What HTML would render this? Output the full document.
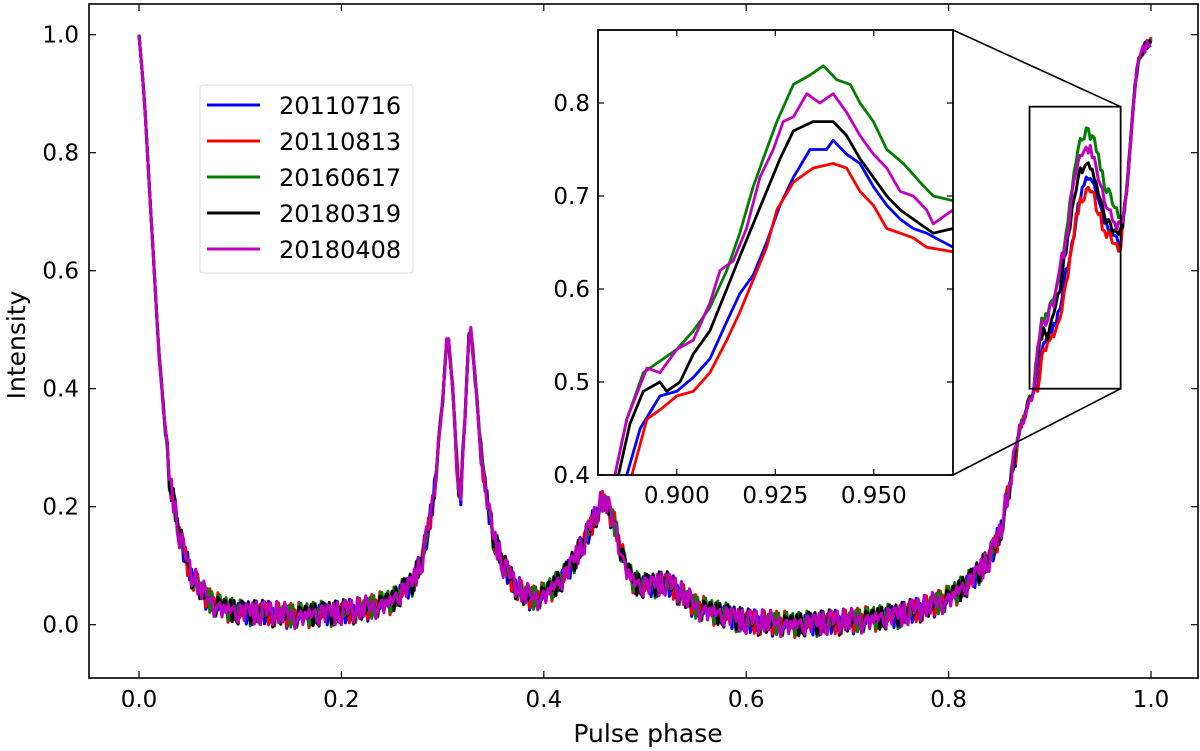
<!DOCTYPE html>
<html><head><meta charset="utf-8"><style>
html,body{margin:0;padding:0;background:#fff;}
svg{display:block;font-family:"DejaVu Sans","Liberation Sans",sans-serif;}
</style></head><body>
<svg id="chart" width="1200" height="751" viewBox="0 0 1200 751" xmlns="http://www.w3.org/2000/svg">
<defs>
<clipPath id="mainClip"><rect x="89" y="4" width="1109" height="674"/></clipPath>
<clipPath id="insetClip"><rect x="598" y="30" width="355" height="445"/></clipPath>
</defs>
<g id="mainG"></g>
<g id="insetG"></g>
</svg>
<script>
// ---- data ----
const seriesNames = ["20110716","20110813","20160617","20180319","20180408"];
const seriesColors = ["#0000ff","#ff0000","#008000","#000000","#bf00bf"];
const mainTicksX = [0.0,0.2,0.4,0.6,0.8,1.0];
const mainTicksY = [0.0,0.2,0.4,0.6,0.8,1.0];
const insetTicksX = [0.900,0.925,0.950];
const insetTicksY = [0.4,0.5,0.6,0.7,0.8];
// shared main profile (phase, intensity)
const basePhase = [0.0,0.005,0.01,0.02,0.03,0.04,0.05,0.06,0.07,0.08,0.1,0.12,0.15,0.2,0.22,0.25,0.27,0.28,0.29,0.30,0.305,0.31,0.315,0.318,0.322,0.327,0.333,0.34,0.35,0.36,0.37,0.38,0.39,0.40,0.42,0.44,0.455,0.46,0.47,0.48,0.49,0.50,0.52,0.53,0.55,0.58,0.60,0.65,0.70,0.75,0.78,0.80,0.82,0.84,0.85,0.86,0.87,0.88,0.97,0.975,0.98,0.985,0.99,0.995,1.0];
const baseValue = [1.0,0.9,0.75,0.45,0.25,0.15,0.09,0.06,0.04,0.03,0.02,0.02,0.015,0.02,0.025,0.04,0.07,0.11,0.2,0.38,0.5,0.4,0.25,0.21,0.35,0.52,0.4,0.25,0.15,0.1,0.07,0.05,0.045,0.05,0.08,0.14,0.2,0.21,0.17,0.1,0.07,0.065,0.07,0.06,0.03,0.015,0.005,0.0,0.005,0.015,0.03,0.045,0.07,0.11,0.15,0.23,0.33,0.38,0.655,0.72,0.82,0.93,0.97,0.98,0.99];
// hand-read jitter (intensity units)
const jitter = [0.01,-0.012,0.018,-0.005,0.022,-0.015,0.004,0.012,-0.02,0.008,-0.006,0.016,-0.011,0.003,0.02,-0.017,0.009,-0.003,0.014,-0.022,0.006,0.011,-0.009,0.019,-0.013,0.002,-0.018,0.015,0.007,-0.008,0.013,-0.016,0.021,-0.004,0.005,-0.014,0.017,-0.007,0.01,-0.019];
// inset region, per series
const bluePhase = [0.8873,0.8907,0.8957,0.9000,0.9042,0.9084,0.9127,0.9160,0.9194,0.9228,0.9262,0.9296,0.9338,0.9380,0.9397,0.9431,0.9465,0.9499,0.9533,0.9567,0.9600,0.9634,0.9701];
const blueValue = [0.40,0.45,0.485,0.49,0.505,0.525,0.565,0.595,0.615,0.65,0.69,0.72,0.75,0.75,0.76,0.745,0.735,0.71,0.69,0.675,0.665,0.66,0.645];
const redPhase = [0.8886,0.8924,0.8957,0.9000,0.9042,0.9084,0.9127,0.9160,0.9194,0.9228,0.9254,0.9296,0.9346,0.9397,0.9431,0.9465,0.9499,0.9533,0.9567,0.9600,0.9634,0.9701];
const redValue = [0.40,0.46,0.47,0.485,0.49,0.51,0.545,0.575,0.61,0.645,0.685,0.715,0.73,0.735,0.73,0.705,0.69,0.665,0.66,0.655,0.645,0.64];
const greenPhase = [0.8843,0.8873,0.8915,0.8949,0.9000,0.9042,0.9084,0.9127,0.9160,0.9194,0.9228,0.9254,0.9296,0.9338,0.9372,0.9406,0.9440,0.9465,0.9499,0.9533,0.9575,0.9617,0.9651,0.9701];
const greenValue = [0.40,0.46,0.51,0.52,0.535,0.555,0.58,0.62,0.66,0.71,0.75,0.78,0.82,0.83,0.84,0.825,0.82,0.80,0.78,0.75,0.735,0.715,0.70,0.695];
const blackPhase = [0.8852,0.8881,0.8915,0.8957,0.8974,0.9008,0.9042,0.9084,0.9127,0.9160,0.9194,0.9228,0.9262,0.9296,0.9346,0.9397,0.9431,0.9465,0.9499,0.9533,0.9567,0.9617,0.9651,0.9701];
const blackValue = [0.40,0.455,0.49,0.50,0.49,0.50,0.53,0.555,0.60,0.635,0.67,0.705,0.74,0.77,0.78,0.78,0.765,0.74,0.72,0.70,0.685,0.67,0.66,0.665];
const magentaPhase = [0.8843,0.8873,0.8924,0.8957,0.9000,0.9042,0.9084,0.9110,0.9143,0.9177,0.9211,0.9245,0.9270,0.9296,0.9330,0.9363,0.9397,0.9431,0.9465,0.9499,0.9533,0.9567,0.9600,0.9634,0.9651,0.9701];
const magentaValue = [0.40,0.46,0.515,0.51,0.535,0.545,0.585,0.62,0.63,0.665,0.72,0.75,0.78,0.785,0.81,0.80,0.81,0.79,0.765,0.745,0.73,0.705,0.70,0.685,0.67,0.685];

const insetPhases = [bluePhase,redPhase,greenPhase,blackPhase,magentaPhase];
const insetValues = [blueValue,redValue,greenValue,blackValue,magentaValue];

// ---- axes ----
const NS="http://www.w3.org/2000/svg";
const mx = v => 139 + v*1012;
const my = v => 624.7 - v*590;
const ix = v => 598 + (v-0.88)*3940;
const iy = v => 475 - (v-0.4)*930;
function mk(tag, attrs, parent){const e=document.createElementNS(NS,tag);for(const k in attrs)e.setAttribute(k,attrs[k]);parent.appendChild(e);return e;}
function interp(xs,ys,x){
  if(x<=xs[0])return ys[0];
  for(let i=1;i<xs.length;i++){if(x<=xs[i]){const t=(x-xs[i-1])/(xs[i]-xs[i-1]);return ys[i-1]+t*(ys[i]-ys[i-1]);}}
  return ys[ys.length-1];
}
const mainG=document.getElementById('mainG');
const insetG=document.getElementById('insetG');

// main series
const linesG=mk('g',{'clip-path':'url(#mainClip)'},mainG);


for(let s=0;s<5;s++){
  let pts=[];
  const ph=insetPhases[s], va=insetValues[s];
  for(let i=0;i<=500;i++){
    const p=i/500;
    let v;
    if(p>=ph[0] && p<=ph[ph.length-1]) v=interp(ph,va,p);
    else v=interp(basePhase,baseValue,p);
    const j=jitter[(i*3+s*7)%jitter.length];
    const amp = p<0.02?0:(v<0.3?1:0.4);
    v += j*amp;
    pts.push(mx(p).toFixed(1)+','+my(v).toFixed(1));
  }
  const pl=mk('polyline',{points:pts.join(' '),fill:'none',stroke:seriesColors[s],'stroke-width':3,'stroke-linejoin':'round'},linesG);
  
  
}
// main frame
const frame=mk('rect',{x:89,y:4,width:1109,height:674,fill:'none',stroke:'#000','stroke-width':1.6},mainG);


mainTicksX.forEach(t=>{
  const x=mx(t);
  mk('line',{x1:x,x2:x,y1:678,y2:671,stroke:'#000','stroke-width':1.2},mainG);
  mk('line',{x1:x,x2:x,y1:4,y2:11,stroke:'#000','stroke-width':1.2},mainG);
  const tx=mk('text',{x:x,y:707,'font-size':23,'text-anchor':'middle'},mainG);
  tx.textContent=t.toFixed(1);
  
  
});
mainTicksY.forEach(t=>{
  const y=my(t);
  mk('line',{x1:89,x2:96,y1:y,y2:y,stroke:'#000','stroke-width':1.2},mainG);
  mk('line',{x1:1198,x2:1191,y1:y,y2:y,stroke:'#000','stroke-width':1.2},mainG);
  const tx=mk('text',{x:79,y:y+8,'font-size':23,'text-anchor':'end'},mainG);
  tx.textContent=t.toFixed(1);
  
  
});
const xl=mk('text',{x:648,y:742,'font-size':25,'text-anchor':'middle'},mainG);
xl.textContent='Pulse phase';


const yl=mk('text',{x:25,y:345,'font-size':25,'text-anchor':'middle',transform:'rotate(-90 25 345)'},mainG);
yl.textContent='Intensity';



// legend
const lg=mk('g',{},mainG);


mk('rect',{x:200,y:85,width:213,height:188,rx:3,fill:'#fff',stroke:'#ddd','stroke-width':1},lg);
for(let s=0;s<5;s++){
  const y=105+s*36;
  const e=mk('g',{},lg);
  
  
  mk('line',{x1:207,x2:260,y1:y,y2:y,stroke:seriesColors[s],'stroke-width':3},e);
  const t=mk('text',{x:279,y:y+9,'font-size':24},e);
  t.textContent=seriesNames[s];
}

// zoom rect + connectors
const zr=mk('rect',{x:mx(0.88),y:my(0.878),width:mx(0.97)-mx(0.88),height:my(0.4)-my(0.878),fill:'none',stroke:'#000','stroke-width':1.8},mainG);


mk('line',{x1:953,y1:30,x2:mx(0.97),y2:my(0.878),stroke:'#000','stroke-width':1.6},mainG);
mk('line',{x1:953,y1:475,x2:mx(0.97),y2:my(0.4),stroke:'#000','stroke-width':1.6},mainG);

// inset
mk('rect',{x:598,y:30,width:355,height:445,fill:'#fff'},insetG);
const ilG=mk('g',{'clip-path':'url(#insetClip)'},insetG);


for(let s=0;s<5;s++){
  const ph=insetPhases[s],va=insetValues[s];
  let pts=[];
  pts.push(ix(ph[0]-0.004).toFixed(1)+','+iy(0.33).toFixed(1));
  for(let i=0;i<ph.length;i++){
    pts.push(ix(ph[i]).toFixed(1)+','+iy(va[i]).toFixed(1));
  }
  const pl=mk('polyline',{points:pts.join(' '),fill:'none',stroke:seriesColors[s],'stroke-width':2.8,'stroke-linejoin':'round'},ilG);
  
  
}
const ifr=mk('rect',{x:598,y:30,width:355,height:445,fill:'none',stroke:'#000','stroke-width':1.8},insetG);


insetTicksX.forEach(t=>{
  const x=ix(t);
  mk('line',{x1:x,x2:x,y1:475,y2:469,stroke:'#000','stroke-width':1.2},insetG);
  mk('line',{x1:x,x2:x,y1:30,y2:36,stroke:'#000','stroke-width':1.2},insetG);
  const tx=mk('text',{x:x,y:503,'font-size':23,'text-anchor':'middle'},insetG);
  tx.textContent=t.toFixed(3);
  
  
});
insetTicksY.forEach(t=>{
  const y=iy(t);
  mk('line',{x1:598,x2:604,y1:y,y2:y,stroke:'#000','stroke-width':1.2},insetG);
  mk('line',{x1:953,x2:947,y1:y,y2:y,stroke:'#000','stroke-width':1.2},insetG);
  const tx=mk('text',{x:590,y:y+8,'font-size':23,'text-anchor':'end'},insetG);
  tx.textContent=t.toFixed(1);
  
  
});
</script>
</body></html>
